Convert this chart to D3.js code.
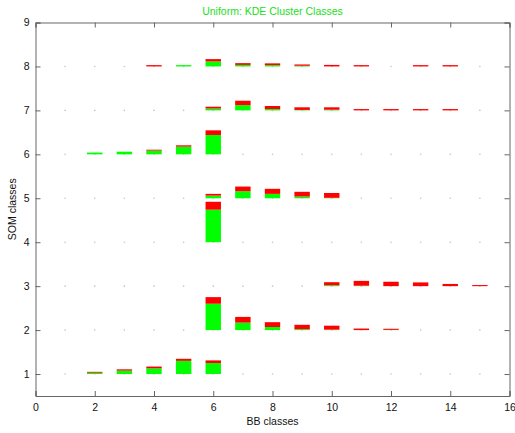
<!DOCTYPE html>
<html><head><meta charset="utf-8">
<script src="https://cdn.jsdelivr.net/npm/d3@7/dist/d3.min.js"></script>
<style>body{margin:0;background:#fff}svg{display:block}text{font-family:"Liberation Sans",Arial,sans-serif}</style>
</head><body>
<script>
// Data: each bar sits at (bbClass, somClass); green part stacked first, red on top
const bbClass   = [2,3,4,5,6, 6,7,8,9,10,11,12, 10,11,12,13,14,15, 6, 6,7,8,9,10, 2,3,4,5,6, 6,7,8,9,10,11,12,13,14, 4,5,6,7,8,9,10,11,13,14];
const somClass  = [1,1,1,1,1, 2,2,2,2,2,2,2, 3,3,3,3,3,3, 4, 5,5,5,5,5, 6,6,6,6,6, 7,7,7,7,7,7,7,7,7, 8,8,8,8,8,8,8,8,8,8];
const greenPart = [0.03,0.077,0.13,0.30,0.25, 0.6,0.17,0.07,0.02,0.01,0,0.005, 0.02,0.01,0,0,0,0, 0.74, 0.06,0.16,0.1,0.04,0.01, 0.04,0.06,0.085,0.175,0.44, 0.043,0.12,0.03,0.01,0.015,0,0,0,0, 0,0.03,0.114,0.035,0.03,0.015,0,0,0,0];
const redPart   = [0.02,0.03,0.04,0.046,0.06, 0.15,0.13,0.11,0.1,0.09,0.035,0.025, 0.07,0.11,0.1,0.085,0.05,0.025, 0.18, 0.04,0.106,0.115,0.107,0.11, 0,0,0.02,0.03,0.106, 0.04,0.1,0.07,0.06,0.055,0.03,0.03,0.03,0.03, 0.03,0,0.053,0.04,0.04,0.03,0.035,0.03,0.03,0.03];
const gridX = [1,2,3,4,5,6,7,8,9,10,11,12,13,14,15];
const gridY = [1,2,3,4,5,6,7,8];
const xTicks = [0,2,4,6,8,10,12,14,16];
const yTicks = [1,2,3,4,5,6,7,8,9];
const titleText = "Uniform: KDE Cluster Classes";
const xLabel = "BB classes", yLabel = "SOM classes";

const W = 515, H = 433;
const m = {left: 35.5, right: 5.5, top: 22.5, bottom: 37};
const svg = d3.select("body").append("svg").attr("width", W).attr("height", H);
const x = d3.scaleLinear().domain([0,16]).range([m.left, W - m.right]);
const y = d3.scaleLinear().domain([0.5,9]).range([H - m.bottom, m.top]);
const barW = 0.52;

// grid dots
const pts = [];
gridY.forEach(gy => gridX.forEach(gx => pts.push([gx, gy])));
svg.append("g").selectAll("circle").data(pts).join("circle")
  .attr("cx", d => x(d[0])).attr("cy", d => y(d[1])).attr("r", 0.8).attr("fill", "#c4c4c4");

const bars = bbClass.map((b, i) => ({b, s: somClass[i], g: greenPart[i], r: redPart[i]}));
const gb = svg.append("g");
gb.selectAll("rect.g").data(bars.filter(d => d.g > 0)).join("rect").attr("class","g")
  .attr("x", d => x(d.b - barW/2)).attr("width", d => x(barW) - x(0))
  .attr("y", d => y(d.s + d.g)).attr("height", d => y(d.s) - y(d.s + d.g))
  .attr("fill", "#00ff00");
gb.selectAll("rect.r").data(bars.filter(d => d.r > 0)).join("rect").attr("class","r")
  .attr("x", d => x(d.b - barW/2)).attr("width", d => x(barW) - x(0))
  .attr("y", d => y(d.s + d.g + d.r)).attr("height", d => y(d.s + d.g) - y(d.s + d.g + d.r))
  .attr("fill", "#ff0000");

// axes
const axCol = "#666";
const tl = 5;
const axB = svg.append("g").attr("transform", `translate(0,${H - m.bottom})`)
  .call(d3.axisBottom(x).tickValues(xTicks).tickSize(-tl).tickPadding(8).tickFormat(d3.format("d")));
const axT = svg.append("g").attr("transform", `translate(0,${m.top})`)
  .call(d3.axisTop(x).tickValues(xTicks).tickSize(-tl).tickFormat(""));
const axL = svg.append("g").attr("transform", `translate(${m.left},0)`)
  .call(d3.axisLeft(y).tickValues(yTicks).tickSize(-tl).tickPadding(6).tickFormat(d3.format("d")));
const axR = svg.append("g").attr("transform", `translate(${W - m.right},0)`)
  .call(d3.axisRight(y).tickValues(yTicks).tickSize(-tl).tickFormat(""));
[axB, axT, axL, axR].forEach(g => {
  g.selectAll("path.domain").attr("stroke", axCol);
  g.selectAll(".tick line").attr("stroke", axCol);
  g.selectAll(".tick text").attr("fill", "#111").style("font-size", "10.5px")
    .style("font-family", '"Liberation Sans", Arial, sans-serif');
});

svg.append("text").attr("x", (m.left + W - m.right)/2).attr("y", 15).attr("text-anchor","middle")
  .attr("fill", "#22dd22").style("font-size","10.5px").text(titleText);
svg.append("text").attr("x", (m.left + W - m.right)/2).attr("y", 425).attr("text-anchor","middle")
  .attr("fill", "#111").style("font-size","10.5px").text(xLabel);
svg.append("text").attr("transform", `translate(16,${(m.top + H - m.bottom)/2}) rotate(-90)`)
  .attr("text-anchor","middle").attr("fill", "#111").style("font-size","10.5px").text(yLabel);
</script>
</body></html>
